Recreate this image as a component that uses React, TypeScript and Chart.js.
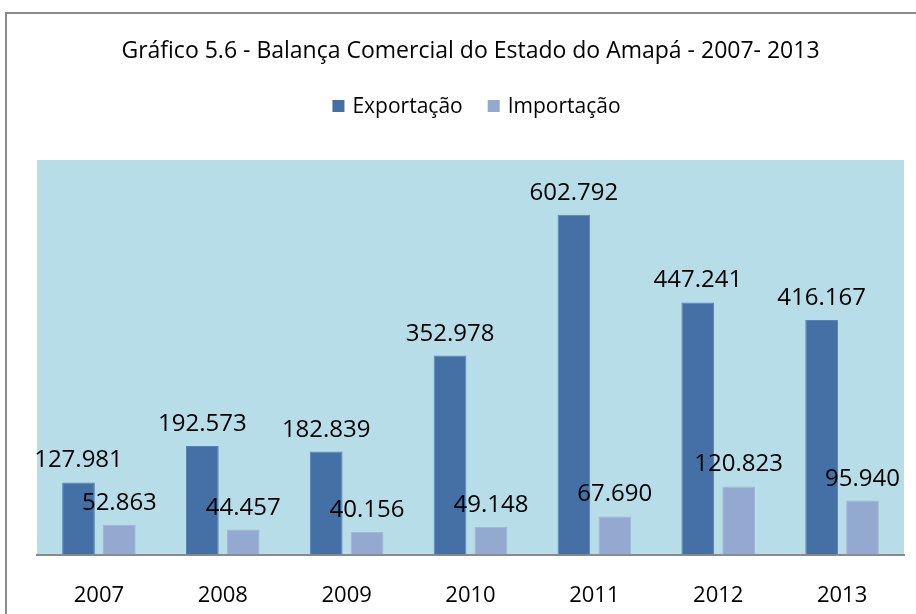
import React, { useEffect, useRef } from "react";
import { Chart, registerables } from "chart.js";

Chart.register(...registerables);

const TITLE = "Gráfico 5.6 - Balança Comercial do Estado do Amapá - 2007- 2013";
const years = ["2007", "2008", "2009", "2010", "2011", "2012", "2013"];
const seriesNames = ["Exportação", "Importação"];
const exportacao = [127981, 192573, 182839, 352978, 602792, 447241, 416167];
const importacao = [52863, 44457, 40156, 49148, 67690, 120823, 95940];
const Y_MAX = 700000;

const COLORS = ["#4470A6", "#93A9CF"];
const BORDERS = ["#5682B6", "#A2B6D8"];
const FONT = "'Open Sans', 'Noto Sans', sans-serif";

const fmt = (n: number) => String(n).replace(/\B(?=(\d{3})+(?!\d))/g, ".");

const decor = {
  id: "decor",
  beforeDraw(chart: any) {
    const { ctx, chartArea: a } = chart;
    ctx.save();
    ctx.fillStyle = "#ffffff";
    ctx.fillRect(0, 0, chart.width, chart.height);
    ctx.strokeStyle = "#8a8a8a";
    ctx.lineWidth = 2;
    ctx.strokeRect(6, 13, chart.width + 40, chart.height + 40);
    ctx.fillStyle = "#B7DDE8";
    ctx.fillRect(a.left, a.top, a.right - a.left, a.bottom - a.top);

    const cx = (a.left + a.right) / 2;
    ctx.fillStyle = "#000000";
    ctx.font = `23px ${FONT}`;
    ctx.textAlign = "center";
    ctx.textBaseline = "middle";
    ctx.fillText(TITLE, cx, 51);

    // legend
    ctx.font = `21px ${FONT}`;
    ctx.textAlign = "left";
    const box = 12;
    const gapBoxText = 8;
    const gapItems = 25;
    const widths = seriesNames.map((s) => ctx.measureText(s).width);
    const total = widths.reduce((s, w) => s + box + gapBoxText + w, 0) + gapItems * (seriesNames.length - 1);
    let x = cx + 6 - total / 2;
    const ly = 106;
    seriesNames.forEach((name, i) => {
      ctx.fillStyle = COLORS[i];
      ctx.fillRect(x, ly - box / 2, box, box);
      ctx.fillStyle = "#000000";
      ctx.fillText(name, x + box + gapBoxText, ly + 1);
      x += box + gapBoxText + widths[i] + gapItems;
    });
    ctx.restore();
  },
  afterDatasetsDraw(chart: any) {
    const { ctx } = chart;
    ctx.save();
    ctx.fillStyle = "#000000";
    ctx.font = `24px ${FONT}`;
    ctx.textAlign = "center";
    ctx.textBaseline = "alphabetic";
    chart.data.datasets.forEach((ds: any, di: number) => {
      const meta = chart.getDatasetMeta(di);
      meta.data.forEach((el: any, i: number) => {
        ctx.fillText(fmt(ds.data[i]), el.x, el.y - 15);
      });
    });
    ctx.restore();
  },
};

export default function App() {
  const ref = useRef<HTMLCanvasElement | null>(null);
  useEffect(() => {
    if (!ref.current) return;
    const chart = new Chart(ref.current, {
      type: "bar",
      data: {
        labels: years,
        datasets: [
          {
            label: seriesNames[0],
            data: exportacao,
            backgroundColor: COLORS[0],
            borderColor: BORDERS[0],
            borderWidth: 1,
            categoryPercentage: 0.66,
            barPercentage: 0.8,
          },
          {
            label: seriesNames[1],
            data: importacao,
            backgroundColor: COLORS[1],
            borderColor: BORDERS[1],
            borderWidth: 1,
            categoryPercentage: 0.66,
            barPercentage: 0.8,
          },
        ],
      },
      options: {
        animation: false,
        responsive: false,
        maintainAspectRatio: false,
        layout: { padding: { left: 37, right: 12, top: 160, bottom: -23 } },
        plugins: {
          legend: { display: false },
          title: { display: false },
          tooltip: { enabled: false },
        },
        scales: {
          x: {
            grid: { display: false, drawTicks: false },
            border: { display: true, color: "#8a8a8a", width: 2 },
            ticks: { color: "#000000", font: { family: FONT, size: 22 }, padding: 28 },
          },
          y: {
            display: false,
            min: 0,
            max: Y_MAX,
          },
        },
      },
      plugins: [decor],
    });
    return () => chart.destroy();
  }, []);
  return (
    <div style={{ position: "fixed", left: 0, top: 0, width: 916, height: 614 }}>
      <canvas ref={ref} width={916} height={614} />
    </div>
  );
}
